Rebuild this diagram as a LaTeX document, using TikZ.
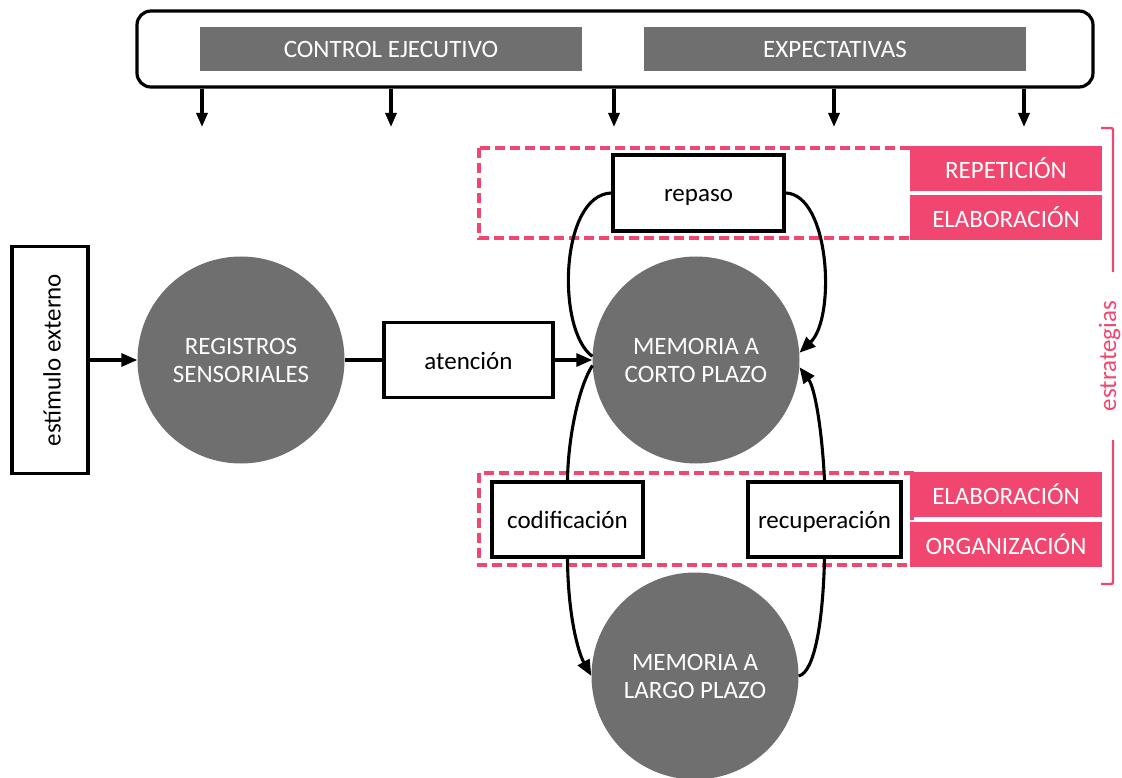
\documentclass[tikz,border=0pt]{standalone}
\usepackage{fontspec}
\setmainfont{Carlito}
\usetikzlibrary{arrows.meta}
\definecolor{discgray}{HTML}{6F6F6F}
\definecolor{strat}{HTML}{F0466F}

\begin{document}
\begin{tikzpicture}[x=1pt,y=-1pt,
  every node/.style={font=\fontsize{25}{28}\selectfont},
  conn/.style={line width=3.1pt, draw=black},
  tip/.style={-{Triangle[length=16pt,width=13pt]}},
  smalltip/.style={-{Triangle[length=14pt,width=11pt]}},
  procbox/.style={draw=black, line width=3.8pt, fill=white, inner sep=0pt,
    minimum height=75pt, text height=18pt, text depth=0pt},
  disc/.style={circle, fill=discgray, text=white, align=center,
    inner sep=0pt, minimum size=207pt},
  graybar/.style={fill=discgray, text=white, inner sep=0pt,
    minimum width=382pt, minimum height=44pt},
  stratbar/.style={fill=strat, text=white, inner sep=0pt,
    minimum width=192pt, minimum height=45pt},
  stratframe/.style={draw=strat, line width=3.2pt, dash pattern=on 10pt off 5pt},
]
\useasboundingbox (0,0) rectangle (1122,778);

% control frame with its two bars
\node[draw=black, line width=3.2pt, rounded corners=14pt, fill=white,
  minimum width=956pt, minimum height=76pt, inner sep=0pt] (top) at (615,49) {};
\node[graybar] (ctrl) at (391,49) {CONTROL EJECUTIVO};
\node[graybar] (expe) at (835,49) {EXPECTATIVAS};

\foreach \i/\xx in {1/202,2/391,3/614,4/834,5/1024}{
  \coordinate (t\i) at (\xx,127);
  \draw[conn,smalltip] (top.south -| t\i) -- (t\i);
}

% dashed strategy frames
\draw[stratframe] (479,148) rectangle (912,238);
\draw[stratframe] (479,473) rectangle (912,565);

% strategy bars
\node[stratbar] (rep1) at (1006,168.5) {REPETICIÓN};
\node[stratbar] (ela1) at (1006,217.5) {ELABORACIÓN};
\node[stratbar] (ela2) at (1006,494.5) {ELABORACIÓN};
\node[stratbar] (org2) at (1006,544) {ORGANIZACIÓN};

% strategies bracket
\draw[draw=strat, line width=2.4pt, rounded corners=2pt]
  (1101,128) -- (1113,128) -- (1113,272);
\draw[draw=strat, line width=2.4pt, rounded corners=2pt]
  (1113,440) -- (1113,584) -- (1101,584);
\node[rotate=90, anchor=base, text=strat] (estr) at (1116,356) {estrategias};

% memory stores
\node[disc] (rs)  at (241,360) {REGISTROS\\SENSORIALES};
\node[disc] (mcp) at (696,360) {MEMORIA A\\CORTO PLAZO};
\node[disc] (mlp) at (695,676) {MEMORIA A\\LARGO PLAZO};

% process boxes
\node[procbox, minimum width=76pt, minimum height=227pt] (stim) at (50,360) {};
\node[rotate=90] at (52,360) {estímulo externo};
\node[procbox, minimum width=169pt] (att) at (468.5,360) {atención};
\node[procbox, minimum width=171pt, minimum height=76pt] (rep) at (698.5,193) {repaso};
\node[procbox, minimum width=151pt] (cod) at (567.5,519.5) {codificación};
\node[procbox, minimum width=153pt] (rec) at (824.5,519.5) {recuperación};

% connectors
\draw[conn,tip] (stim.east) -- (rs.west);
\draw[conn] (rs.east) -- (att.west);
\draw[conn,tip] (att.east) -- (mcp.west);

\draw[conn] (mcp.178) .. controls (556,330) and (560,195) .. (rep.west);
\draw[conn,tip] (rep.east) .. controls (830,195) and (836,318) .. (mcp.4);

\draw[conn] (mcp.-177) .. controls (578,388) and (568,440) .. (cod.north);
\draw[conn,tip] (cod.south) .. controls (568,615) and (578,652) .. (mlp.west);

\draw[conn] (mlp.east) .. controls (815,672) and (823,620) .. (rec.south);
\draw[conn,tip] (rec.north) .. controls (822,430) and (815,388) .. (mcp.-4);
\end{tikzpicture}
\end{document}
